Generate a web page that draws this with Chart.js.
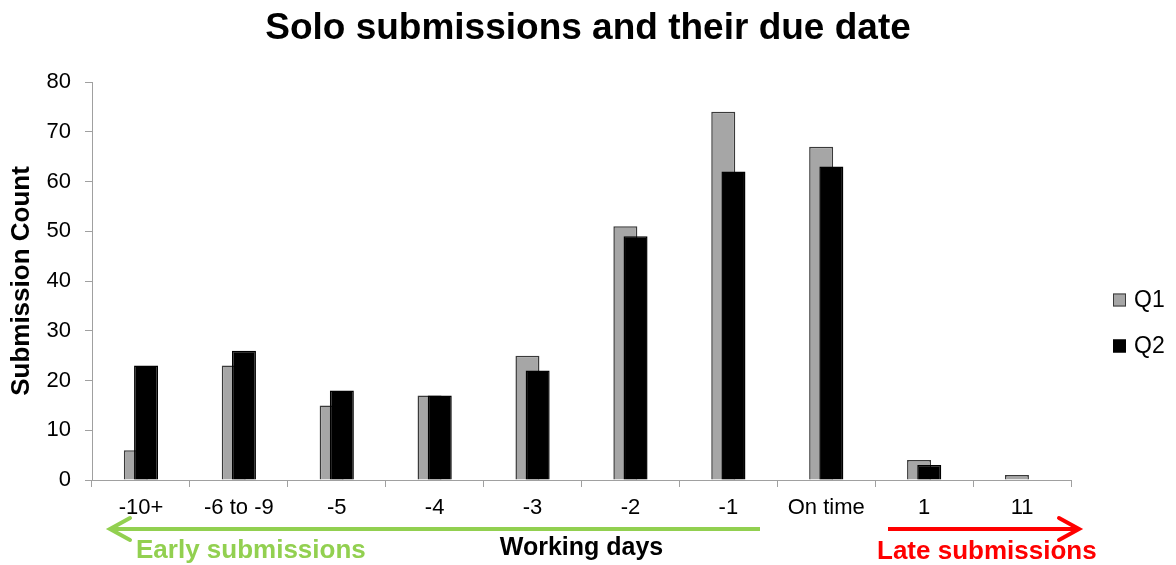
<!DOCTYPE html>
<html>
<head>
<meta charset="utf-8">
<title>Solo submissions and their due date</title>
<script src="https://cdn.jsdelivr.net/npm/chart.js@4/dist/chart.umd.min.js"></script>
<style>
  html, body { margin: 0; padding: 0; background: #ffffff; }
  #wrap { width: 1176px; height: 565px; position: relative; }
</style>
</head>
<body>
<div id="wrap"><canvas id="chart" width="1176" height="565"></canvas></div>
<script>
// Working-day buckets relative to the due date
const categories = ['-10+', '-6 to -9', '-5', '-4', '-3', '-2', '-1', 'On time', '1', '11'];
const seriesNames = ['Q1', 'Q2'];
const q1Counts = [6, 23, 15, 17, 25, 51, 74, 67, 4, 1];
const q2Counts = [23, 26, 18, 17, 22, 49, 62, 63, 3, 0];
const yTicks = [0, 10, 20, 30, 40, 50, 60, 70, 80];

const FONT = '"Liberation Sans", Arial, Helvetica, sans-serif';
const AXIS_GREY = '#a0a0a0';

// Draw datasets first-to-last so Q2 overlaps Q1
const drawOrderPlugin = {
  id: 'drawOrder',
  beforeDatasetsDraw(chart) {
    const ctx = chart.ctx;
    const a = chart.chartArea;
    ctx.save();
    ctx.beginPath();
    ctx.rect(a.left, a.top - 4, a.right - a.left, a.bottom - a.top + 4);
    ctx.clip();
    chart.getSortedVisibleDatasetMetas().forEach(m => m.controller.draw());
    ctx.restore();
    return false;
  }
};

// Legend on the right plus the early / late arrows under the axis
const decorPlugin = {
  id: 'decor',
  afterDraw(chart) {
    const ctx = chart.ctx;
    ctx.save();

    // legend
    const ds = chart.data.datasets;
    const legendX = 1113, legendY0 = 300, legendStep = 46, box = 13;
    ds.forEach((d, i) => {
      const cy = legendY0 + i * legendStep;
      ctx.fillStyle = d.backgroundColor;
      ctx.fillRect(legendX, cy - box / 2, box, box);
      ctx.lineWidth = 1;
      ctx.strokeStyle = d.borderColor;
      ctx.strokeRect(legendX + 0.5, cy - box / 2 + 0.5, box - 1, box - 1);
      ctx.fillStyle = '#000';
      ctx.font = '23px ' + FONT;
      ctx.textAlign = 'left';
      ctx.textBaseline = 'middle';
      ctx.fillText(d.label, legendX + box + 8, cy + 1);
    });

    const arrowY = 529;
    function arrow(x0, x1, color, dir) {
      ctx.strokeStyle = color;
      ctx.lineWidth = 4;
      ctx.lineCap = 'butt';
      ctx.beginPath();
      ctx.moveTo(x0, arrowY);
      ctx.lineTo(x1, arrowY);
      ctx.stroke();
      const tip = dir < 0 ? x0 : x1;
      ctx.lineCap = 'round';
      ctx.lineJoin = 'miter';
      ctx.beginPath();
      ctx.moveTo(tip - dir * 20, arrowY - 11);
      ctx.lineTo(tip, arrowY);
      ctx.lineTo(tip - dir * 20, arrowY + 11);
      ctx.stroke();
    }
    arrow(110, 760, '#92d050', -1);
    arrow(888, 1079, '#ff0000', 1);

    ctx.font = 'bold 26px ' + FONT;
    ctx.textAlign = 'left';
    ctx.textBaseline = 'middle';
    ctx.fillStyle = '#92d050';
    ctx.fillText('Early submissions', 136, 551);
    ctx.fillStyle = '#ff0000';
    ctx.fillText('Late submissions', 877, 552);

    ctx.restore();
  }
};

new Chart(document.getElementById('chart'), {
  type: 'bar',
  data: {
    labels: categories,
    datasets: [
      {
        label: seriesNames[0],
        data: q1Counts,
        backgroundColor: '#a6a6a6',
        borderColor: '#3a3a3a',
        borderWidth: 1.5,
        categoryPercentage: 0.2086,
        barPercentage: 2.35
      },
      {
        label: seriesNames[1],
        data: q2Counts,
        backgroundColor: '#000000',
        borderColor: '#000000',
        borderWidth: 1.5,
        categoryPercentage: 0.2086,
        barPercentage: 2.35
      }
    ]
  },
  options: {
    responsive: false,
    animation: false,
    events: [],
    layout: { padding: { left: 0, right: 0, top: 0, bottom: 0 } },
    plugins: {
      legend: { display: false },
      tooltip: { enabled: false },
      title: {
        display: true,
        text: 'Solo submissions and their due date',
        color: '#000',
        font: { family: FONT, size: 37, weight: 'bold' },
        padding: { top: 7, bottom: 30.6 }
      }
    },
    scales: {
      x: {
        offset: true,
        grid: {
          offset: true,
          drawOnChartArea: false,
          drawTicks: true,
          tickLength: 7,
          color: AXIS_GREY
        },
        border: { display: true, color: AXIS_GREY, width: 1 },
        ticks: {
          color: '#000',
          font: { family: FONT, size: 22 },
          padding: 8,
          maxRotation: 0,
          autoSkip: false
        },
        title: {
          display: true,
          text: 'Working days',
          color: '#000',
          font: { family: FONT, size: 25, weight: 'bold' },
          padding: { top: 0, bottom: 2 }
        },
        afterFit(scale) { scale.height = 85; }
      },
      y: {
        min: 0,
        max: 80,
        afterBuildTicks(scale) { scale.ticks = yTicks.map(v => ({ value: v })); },
        grid: {
          drawOnChartArea: false,
          drawTicks: true,
          tickLength: 7,
          color: AXIS_GREY
        },
        border: { display: true, color: AXIS_GREY, width: 1 },
        ticks: {
          color: '#000',
          font: { family: FONT, size: 22 },
          padding: 14
        },
        title: {
          display: true,
          text: 'Submission Count',
          color: '#000',
          font: { family: FONT, size: 26, weight: 'bold' },
          padding: { top: 6.4, bottom: 0 }
        },
        afterFit(scale) { scale.width = 92; }
      },
      // empty band on the right that holds the legend
      legendSpace: {
        type: 'linear',
        position: 'right',
        display: true,
        grid: { display: false, drawTicks: false },
        border: { display: false },
        ticks: { display: false },
        afterFit(scale) { scale.width = 105; }
      }
    }
  },
  plugins: [drawOrderPlugin, decorPlugin]
});
</script>
</body>
</html>
